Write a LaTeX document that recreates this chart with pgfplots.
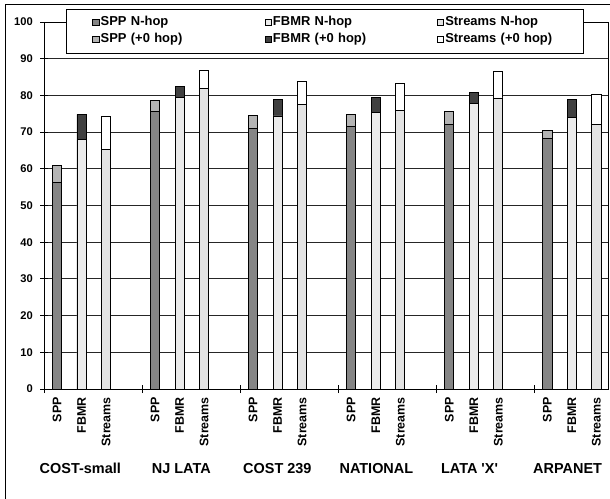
\documentclass[border=0pt]{standalone}
\usepackage{pgfplots}
\pgfplotsset{compat=1.18}
\usepackage{fontspec}
\setmainfont{Liberation Sans}

\definecolor{sppN}{HTML}{858585}
\definecolor{sppT}{HTML}{B4B4B4}
\definecolor{fbmrN}{HTML}{EBEBEB}
\definecolor{fbmrT}{HTML}{404040}
\definecolor{strN}{HTML}{E3E3E3}
\definecolor{strT}{HTML}{FFFFFF}

\pgfplotsset{
  sq legend/.style={legend image code/.code={\draw[##1, line width=0.6bp] (0bp,-3.1bp) rectangle (6.2bp,3.1bp);}},
  barsty/.style={ybar, bar width=9.2bp, bar shift=0pt, draw=black, line width=0.8bp, forget plot},
}
\tikzset{grplab/.style={anchor=base, yshift=-84bp, font=\bfseries\fontsize{14.5}{17}\selectfont}}

\begin{document}
\begin{tikzpicture}
\begin{axis}[
  at={(0,0)}, anchor=south west, scale only axis,
  width=564bp, height=367bp,
  xmin=0, xmax=5.752, ymin=0, ymax=100,
  clip=false,
  axis line style={line width=0.8bp, black},
  tick align=center, tick pos=left,
  major tick length=8bp,
  every tick/.style={black, line width=0.8bp},
  xtick={0,1,2,3,4,5}, xticklabels={,,,,,},
  extra x ticks={0.133,0.383,0.633,1.133,1.383,1.633,2.133,2.383,2.633,3.133,3.383,3.633,4.133,4.383,4.633,5.133,5.383,5.633},
  extra x tick labels={SPP,FBMR,Streams,SPP,FBMR,Streams,SPP,FBMR,Streams,SPP,FBMR,Streams,SPP,FBMR,Streams,SPP,FBMR,Streams},
  extra x tick style={major tick length=0pt, xticklabel style={inner sep=0pt, yshift=-8bp, rotate=90, anchor=east, font=\bfseries\fontsize{12.5}{14}\selectfont}},
  ytick={0,10,...,100},
  ymajorgrids, grid style={black!85, line width=0.8bp},
  yticklabel style={inner sep=0pt, xshift=-7bp, font=\bfseries\fontsize{11.2}{13}\selectfont},
  /pgf/number format/assume math mode=true,
  legend columns=3,
  legend style={
    at={(axis description cs:0.039,1.0354)}, anchor=north west,
    draw=black, line width=0.8bp, fill=white,
    inner xsep=26bp, inner ysep=7.5bp,
    font=\bfseries\fontsize{13}{15}\selectfont,
    row sep=5.5bp,
    nodes={inner sep=0pt, text height=9bp, text depth=2.5bp, text width=112bp, align=left},
    /tikz/every odd column/.append style={column sep=1.5bp},
    /tikz/every even column/.append style={column sep=52bp},
  },
]
% totals (N-hop plus the +0 hop part)
\addplot[barsty, fill=sppT] coordinates {(0.133,61.0) (1.133,78.7) (2.133,74.6) (3.133,74.9) (4.133,75.7) (5.133,70.5)};
\addplot[barsty, fill=fbmrT] coordinates {(0.383,74.8) (1.383,82.4) (2.383,78.8) (3.383,79.4) (4.383,80.8) (5.383,78.9)};
\addplot[barsty, fill=strT] coordinates {(0.633,74.2) (1.633,86.8) (2.633,83.8) (3.633,83.2) (4.633,86.5) (5.633,80.4)};
% N-hop
\addplot[barsty, fill=sppN] coordinates {(0.133,56.2) (1.133,75.6) (2.133,71.0) (3.133,71.5) (4.133,72.1) (5.133,68.2)};
\addplot[barsty, fill=fbmrN] coordinates {(0.383,67.9) (1.383,79.5) (2.383,74.4) (3.383,75.3) (4.383,77.9) (5.383,73.9)};
\addplot[barsty, fill=strN] coordinates {(0.633,65.2) (1.633,82.0) (2.633,77.6) (3.633,75.8) (4.633,79.3) (5.633,72.0)};

\addlegendimage{sq legend, fill=sppN, draw=black}
\addlegendentry{SPP N-hop}
\addlegendimage{sq legend, fill=fbmrN, draw=black}
\addlegendentry{FBMR N-hop}
\addlegendimage{sq legend, fill=strN, draw=black}
\addlegendentry{Streams N-hop}
\addlegendimage{sq legend, fill=sppT, draw=black}
\addlegendentry{SPP (+0 hop)}
\addlegendimage{sq legend, fill=fbmrT, draw=black}
\addlegendentry{FBMR (+0 hop)}
\addlegendimage{sq legend, fill=strT, draw=black}
\addlegendentry{Streams (+0 hop)}

\node[grplab] at (axis cs:0.37,0) {COST-small};
\node[grplab] at (axis cs:1.40,0) {NJ LATA};
\node[grplab] at (axis cs:2.38,0) {COST 239};
\node[grplab] at (axis cs:3.39,0) {NATIONAL};
\node[grplab] at (axis cs:4.34,0) {LATA \textquotesingle X\textquotesingle};
\node[grplab] at (axis cs:5.34,0) {ARPANET};
\end{axis}
\pgfresetboundingbox
\path[use as bounding box] (-44bp,-110bp) rectangle (566bp,389bp);
\draw[line width=0.8bp] (580bp,385bp) -- (-39bp,385bp) -- (-39bp,-120bp);
\end{tikzpicture}
\end{document}
